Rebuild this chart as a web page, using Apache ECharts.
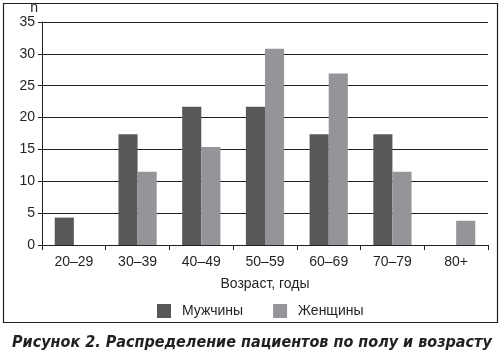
<!DOCTYPE html>
<html><head><meta charset="utf-8">
<script src="https://cdn.jsdelivr.net/npm/echarts@6/dist/echarts.min.js"></script>
<style>html,body{margin:0;padding:0;background:#fff}#c{width:503px;height:357px}</style>
</head><body><div id="c"></div>
<script>
const categories = ['20–29','30–39','40–49','50–59','60–69','70–79','80+'];
const men = [4.3, 17.4, 21.7, 21.7, 17.4, 17.4, 0];
const women = [0, 11.5, 15.4, 30.8, 26.9, 11.5, 3.8];
const yTicks = [0,5,10,15,20,25,30,35];
const seriesNames = ['Мужчины','Женщины'];
const FONT = '"Liberation Sans Narrow", "Liberation Sans", sans-serif';
const chart = echarts.init(document.getElementById('c'));
chart.setOption({
  animation:false,
  backgroundColor:'#fff',
  textStyle:{fontFamily:FONT},
  title:{text:'Рисунок 2. Распределение пациентов по полу и возрасту',left:7,top:330,
    textStyle:{fontFamily:'"DejaVu Sans Condensed", "DejaVu Sans", sans-serif',fontWeight:'bold',fontStyle:'italic',fontSize:16,color:'#231f20'}},
  graphic:[{type:'rect',shape:{x:3.5,y:3.5,width:494,height:319},style:{fill:'none',stroke:'#231f20',lineWidth:1.2},silent:true}],
  legend:{data:seriesNames,left:152,top:299,itemWidth:14,itemHeight:14,itemGap:30,
    textStyle:{fontFamily:FONT,fontSize:14,color:'#231f20',padding:[0,0,0,6]},icon:'rect'},
  grid:{left:42,right:15,top:22,bottom:112},
  xAxis:{type:'category',data:categories,name:'Возраст, годы',nameLocation:'middle',nameGap:32,
    nameTextStyle:{fontFamily:FONT,fontSize:14,color:'#231f20'},
    axisLine:{lineStyle:{color:'#231f20',width:1}},
    axisTick:{show:true,length:5,lineStyle:{color:'#231f20'}},
    axisLabel:{fontFamily:FONT,fontSize:14,color:'#231f20',margin:10}},
  yAxis:{type:'value',min:0,max:35,interval:5,name:'n',nameGap:3,
    nameTextStyle:{fontFamily:FONT,fontSize:14,color:'#231f20',align:'right',padding:[0,4,0,0]},
    axisLine:{show:true,lineStyle:{color:'#231f20',width:1}},
    axisTick:{show:true,length:4,lineStyle:{color:'#231f20'}},
    axisLabel:{fontFamily:FONT,fontSize:14,color:'#231f20',margin:7,
      formatter:v=>yTicks.includes(v)?String(v):''},
    splitLine:{lineStyle:{color:'#231f20',width:1}}},
  series:[
    {name:seriesNames[0],type:'bar',data:men,itemStyle:{color:'#58585a'},barGap:'0%',barCategoryGap:'40%'},
    {name:seriesNames[1],type:'bar',data:women,itemStyle:{color:'#949598'},barGap:'0%',barCategoryGap:'40%'}
  ]
});
</script></body></html>
